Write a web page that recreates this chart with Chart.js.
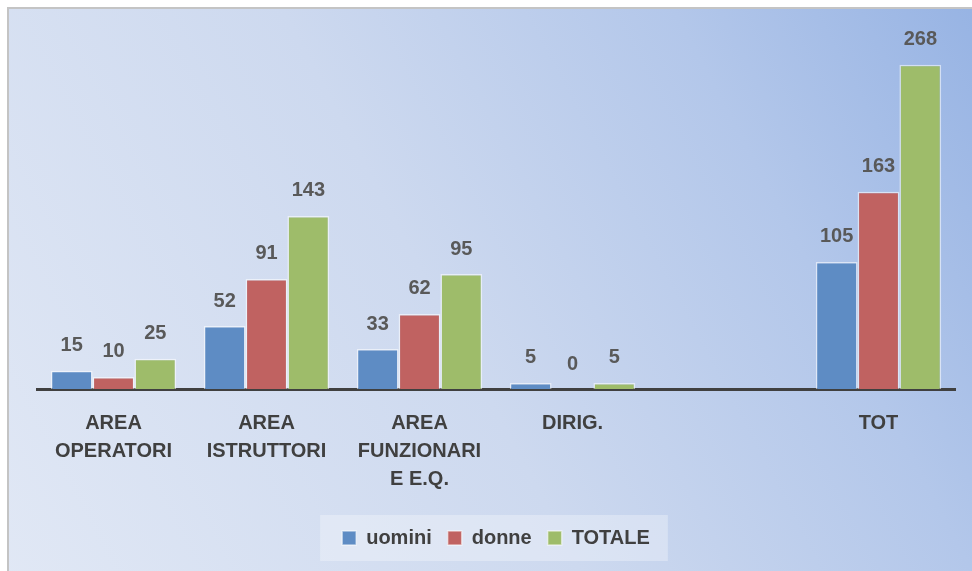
<!DOCTYPE html>
<html>
<head>
<meta charset="utf-8">
<script src="https://cdn.jsdelivr.net/npm/chart.js@4"></script>
<style>
  html, body { margin: 0; padding: 0; background: #fff; overflow: hidden; }
  #frame {
    position: absolute; left: 7px; top: 7px; width: 990px; height: 590px;
    border: 2px solid #c4c4c4;
    background: linear-gradient(62deg, #e1e8f5 0%, #cdd9ef 45%, #b3c7ea 75%, #95b2e3 100%);
  }
  #wrap { position: absolute; left: 0; top: 0; width: 963px; height: 562px; }
</style>
</head>
<body>
<div id="frame"><div id="wrap"><canvas id="myChart"></canvas></div></div>
<script>
const categories = [["AREA", "OPERATORI"], ["AREA", "ISTRUTTORI"], ["AREA", "FUNZIONARI", "E E.Q."], "DIRIG.", "", "TOT"];
const uomini = [15, 52, 33, 5, null, 105];
const donne = [10, 91, 62, 0, null, 163];
const totale = [25, 143, 95, 5, null, 268];

const FONT = "'Liberation Sans', Arial, sans-serif";

// valori sopra le barre
const valueLabels = {
    id: "valueLabels",
    afterDatasetsDraw(chart) {
        const ctx = chart.ctx;
        ctx.save();
        ctx.font = "bold 20px " + FONT;
        ctx.fillStyle = "#595959";
        ctx.textAlign = "center";
        ctx.textBaseline = "middle";
        chart.data.datasets.forEach((ds, i) => {
            chart.getDatasetMeta(i).data.forEach((bar, j) => {
                const v = ds.data[j];
                if (v === null) return;
                ctx.fillText(String(v), bar.x, bar.y - 25);
            });
        });
        ctx.restore();
    }
};

// riquadro chiaro dietro la legenda
const legendBox = {
    id: "legendBox",
    beforeDraw(chart) {
        const boxes = chart.legend && chart.legend.legendHitBoxes;
        if (!boxes || !boxes.length) return;
        let x0 = Infinity, x1 = -Infinity, y0 = Infinity, y1 = -Infinity;
        boxes.forEach(b => {
            x0 = Math.min(x0, b.left); x1 = Math.max(x1, b.left + b.width);
            y0 = Math.min(y0, b.top); y1 = Math.max(y1, b.top + b.height);
        });
        const ctx = chart.ctx;
        ctx.save();
        ctx.fillStyle = "rgba(255,255,255,0.3)";
        ctx.fillRect(x0 - 22, y0 - 13, (x1 - x0) + 40, (y1 - y0) + 26);
        ctx.restore();
    }
};

const ctx = document.getElementById("myChart").getContext("2d");

const myChart = new Chart(ctx, {
    type: "bar",
    data: {
        labels: categories,
        datasets: [
            {
                label: "uomini",
                data: uomini,
                backgroundColor: "rgb(94, 140, 196)",
                borderColor: "rgba(255, 255, 255, 0.55)",
                borderWidth: 1.5,
            },
            {
                label: "donne",
                data: donne,
                backgroundColor: "rgb(192, 98, 97)",
                borderColor: "rgba(255, 255, 255, 0.55)",
                borderWidth: 1.5,
            },
            {
                label: "TOTALE",
                data: totale,
                backgroundColor: "rgb(158, 188, 106)",
                borderColor: "rgba(255, 255, 255, 0.55)",
                borderWidth: 1.5,
            },
        ],
    },
    options: {
        responsive: true,
        maintainAspectRatio: false,
        animation: false,
        datasets: {
            bar: { barPercentage: 1, categoryPercentage: 0.82 }
        },
        layout: {
            padding: { left: 28, right: 17, top: 17, bottom: 13 }
        },
        scales: {
            x: {
                z: 1,
                grid: { display: true, drawOnChartArea: false, drawTicks: false, color: "rgba(0,0,0,0)" },
                border: { display: true, color: "#404040", width: 3 },
                ticks: {
                    color: "#404040",
                    padding: 20,
                    maxRotation: 0,
                    autoSkip: false,
                    font: { family: FONT, size: 20, weight: "bold", lineHeight: 1.4 }
                },
                afterFit(scale) { scale.height = 123; }
            },
            y: {
                display: false,
                min: 0,
                max: 300,
            }
        },
        plugins: {
            legend: {
                position: "bottom",
                labels: {
                    color: "#404040",
                    boxWidth: 14,
                    boxHeight: 14,
                    padding: 16,
                    font: { family: FONT, size: 20, weight: "bold" }
                }
            },
            tooltip: { enabled: false }
        },
    },
    plugins: [valueLabels, legendBox],
});
</script>
</body>
</html>
